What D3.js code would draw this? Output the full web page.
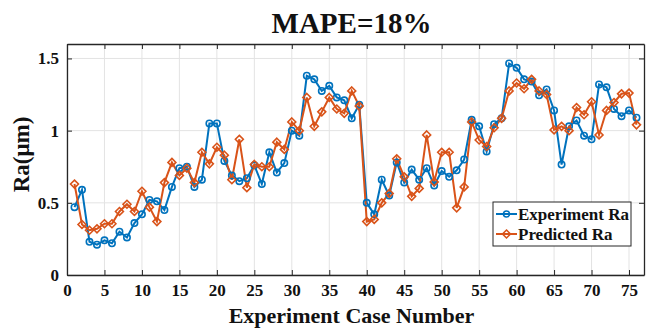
<!DOCTYPE html>
<html><head><meta charset="utf-8">
<script src="https://cdn.jsdelivr.net/npm/d3@7"></script>
<style>body{margin:0;background:#fff}svg{display:block}</style>
</head><body><svg id="c" width="649" height="329"></svg>
<script>
const caseNumbers = d3.range(1, 77);
const experimentRa = [0.47,0.59,0.23,0.21,0.24,0.22,0.30,0.26,0.36,0.42,0.52,0.51,0.45,0.61,0.74,0.75,0.61,0.66,1.05,1.05,
0.79,0.69,0.65,0.67,0.76,0.63,0.85,0.71,0.775,1.00,0.965,1.38,1.355,1.275,1.31,1.23,1.21,1.085,1.18,0.50,
0.42,0.66,0.55,0.78,0.64,0.73,0.66,0.74,0.62,0.72,0.68,0.725,0.80,1.075,1.03,0.855,1.045,1.085,1.465,1.435,
1.355,1.34,1.245,1.285,1.14,0.765,1.03,1.07,0.965,0.94,1.32,1.30,1.15,1.10,1.14,1.09];
const predictedRa = [0.63,0.35,0.31,0.32,0.355,0.355,0.44,0.49,0.44,0.58,0.47,0.37,0.64,0.78,0.69,0.74,0.64,0.85,0.77,0.885,
0.83,0.66,0.94,0.605,0.766,0.75,0.75,0.92,0.87,1.06,1.00,1.23,1.03,1.13,1.23,1.15,1.12,1.275,1.17,0.37,
0.385,0.50,0.565,0.805,0.68,0.545,0.60,0.97,0.645,0.85,0.85,0.465,0.61,1.06,0.935,0.89,1.02,1.085,1.275,1.33,
1.29,1.355,1.275,1.25,1.005,1.03,1.00,1.16,1.11,1.20,0.97,1.14,1.195,1.255,1.26,1.04];
const xTicks = d3.range(0, 80, 5);
const yTicks = [0, 0.5, 1, 1.5];
const yTickLabels = ["0", "0.5", "1", "1.5"];
const seriesNames = ["Experiment Ra", "Predicted Ra"];
const titleText = "MAPE=18%";
const xLabel = "Experiment Case Number";
const yLabel = "Ra(μm)";

const svg = d3.select("#c");
const L = 67, R = 644, T = 44, B = 275;
const x = d3.scaleLinear().domain([0, 77]).range([L, R]);
const y = d3.scaleLinear().domain([0, 1.6]).range([B, T]);
const font = "'Liberation Serif','Times New Roman',serif";
const axisCol = "#262626";
const blue = "#0072BD", orange = "#D95319";

// grid
const g = svg.append("g");
g.selectAll(".gx").data(xTicks).join("line")
  .attr("x1", d => x(d)).attr("x2", d => x(d)).attr("y1", T).attr("y2", B)
  .attr("stroke", "#e3e3e3").attr("stroke-width", 1);
g.selectAll(".gy").data(yTicks).join("line")
  .attr("y1", d => y(d)).attr("y2", d => y(d)).attr("x1", L).attr("x2", R)
  .attr("stroke", "#e3e3e3").attr("stroke-width", 1);

// axes
const xAxis = d3.axisBottom(x).tickValues(xTicks).tickSizeInner(-5).tickSizeOuter(0).tickPadding(9);
const yAxis = d3.axisLeft(y).tickValues(yTicks).tickFormat((d, i) => yTickLabels[i]).tickSizeInner(-5).tickSizeOuter(0).tickPadding(8);
const xa = svg.append("g").attr("transform", `translate(0,${B})`).call(xAxis);
const ya = svg.append("g").attr("transform", `translate(${L},0)`).call(yAxis);
const xt = svg.append("g").attr("transform", `translate(0,${T})`).call(d3.axisTop(x).tickValues(xTicks).tickSizeInner(-5).tickSizeOuter(0).tickFormat(""));
const yr = svg.append("g").attr("transform", `translate(${R},0)`).call(d3.axisRight(y).tickValues(yTicks).tickSizeInner(-5).tickSizeOuter(0).tickFormat(""));
[xa, ya, xt, yr].forEach(a => {
  a.select(".domain").attr("stroke", axisCol).attr("stroke-width", 1.3);
  a.selectAll(".tick line").attr("stroke", axisCol).attr("stroke-width", 1);
  a.selectAll("text").attr("fill", "#111").style("font-family", font).style("font-weight", "bold").style("font-size", "17px");
});

// lines
const line = d3.line().x((d, i) => x(caseNumbers[i])).y(d => y(d));
svg.append("path").datum(experimentRa).attr("d", line).attr("fill", "none").attr("stroke", blue).attr("stroke-width", 2);
svg.append("path").datum(predictedRa).attr("d", line).attr("fill", "none").attr("stroke", orange).attr("stroke-width", 2);
svg.selectAll(".mb").data(experimentRa).join("circle")
  .attr("cx", (d, i) => x(caseNumbers[i])).attr("cy", d => y(d)).attr("r", 3.2)
  .attr("fill", "none").attr("stroke", blue).attr("stroke-width", 1.6);
const diamond = d3.symbol().type(d3.symbolDiamond2).size(40);
svg.selectAll(".mo").data(predictedRa).join("path")
  .attr("d", diamond)
  .attr("transform", (d, i) => `translate(${x(caseNumbers[i])},${y(d)})`)
  .attr("fill", "none").attr("stroke", orange).attr("stroke-width", 1.6);

// title & labels
svg.append("text").attr("x", (L + R) / 2 - 4).attr("y", 33).attr("text-anchor", "middle")
  .style("font-family", font).style("font-weight", "bold").style("font-size", "29px").attr("fill", "#111").text(titleText);
svg.append("text").attr("x", (L + R) / 2 - 4).attr("y", 323).attr("text-anchor", "middle")
  .style("font-family", font).style("font-weight", "bold").style("font-size", "22px").attr("fill", "#111").text(xLabel);
svg.append("text").attr("transform", `translate(29,${(T + B) / 2 - 5}) rotate(-90)`).attr("text-anchor", "middle")
  .style("font-family", font).style("font-weight", "bold").style("font-size", "23px").attr("fill", "#111").text(yLabel);

// legend
const lg = svg.append("g").attr("transform", "translate(493,202)");
lg.append("rect").attr("width", 138).attr("height", 44).attr("fill", "#fff").attr("stroke", axisCol).attr("stroke-width", 1);
[blue, orange].forEach((c, i) => {
  const yy = 12 + i * 20;
  lg.append("line").attr("x1", 3).attr("x2", 24).attr("y1", yy).attr("y2", yy).attr("stroke", c).attr("stroke-width", 2);
  if (i === 0) lg.append("circle").attr("cx", 13.5).attr("cy", yy).attr("r", 3).attr("fill", "none").attr("stroke", c).attr("stroke-width", 1.6);
  else lg.append("path").attr("d", diamond).attr("transform", `translate(13.5,${yy})`).attr("fill", "none").attr("stroke", c).attr("stroke-width", 1.6);
  lg.append("text").attr("x", 25).attr("y", yy + 5.5).style("font-family", font).style("font-weight", "bold").style("font-size", "17px").attr("fill", "#111").text(seriesNames[i]);
});
</script></body></html>
